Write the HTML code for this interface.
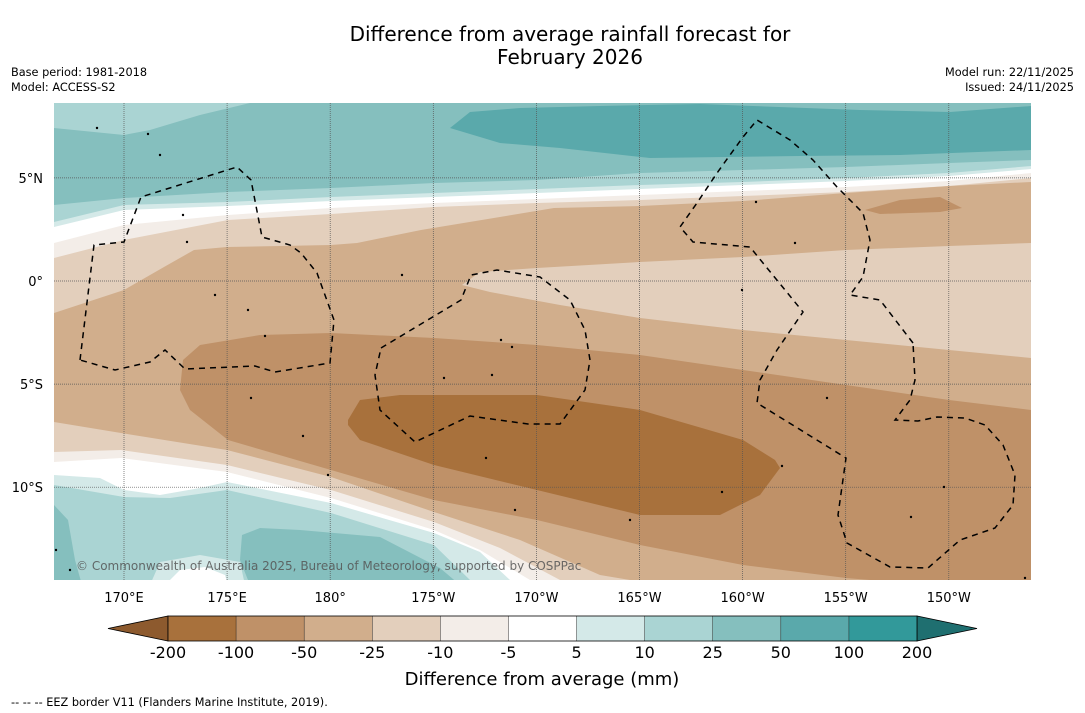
<!DOCTYPE html>
<html><head><meta charset="utf-8"><style>
body{margin:0;background:#fff;}
svg{display:block;font-family:"DejaVu Sans","Liberation Sans",sans-serif;}
</style></head><body>
<svg id="chart" width="1085" height="713" viewBox="0 0 1085 713">
<rect width="1085" height="713" fill="#fff"/>
<text x="570" y="41" font-size="20" text-anchor="middle" fill="#000">Difference from average rainfall forecast for</text>
<text x="570" y="64" font-size="20" text-anchor="middle" fill="#000">February 2026</text>
<text x="11" y="76" font-size="11.3">Base period: 1981-2018</text>
<text x="11" y="91" font-size="11.3">Model: ACCESS-S2</text>
<text x="1074" y="76" font-size="11.3" text-anchor="end">Model run: 22/11/2025</text>
<text x="1074" y="91" font-size="11.3" text-anchor="end">Issued: 24/11/2025</text>
<defs><clipPath id="mapclip"><rect x="54" y="103" width="977" height="477"/></clipPath></defs>
<g id="map" clip-path="url(#mapclip)"></g>
<g id="axes"></g>
<g id="cbar"></g>
<text x="542" y="685" font-size="18" text-anchor="middle">Difference from average (mm)</text>
<text x="11" y="706" font-size="11.3">--  --  -- EEZ border V11 (Flanders Marine Institute, 2019).</text>
</svg>
<script>
// colorbar data
const levels = ["-200","-100","-50","-25","-10","-5","5","10","25","50","100","200"];
const colors = ["#a8713c","#bf9168","#d1ae8c","#e3cfbc","#f3ede8","#ffffff","#d4e9e8","#aad4d3","#85bfbe","#5aa9ab","#32999a"];
const lonTicks = [170,175,180,185,190,195,200,205,210];
const lonLabels = ["170°E","175°E","180°","175°W","170°W","165°W","160°W","155°W","150°W"];
const latTicks = [5,0,-5,-10];
const latLabels = ["5°N","0°","5°S","10°S"];

const NS="http://www.w3.org/2000/svg";
function X(lon){return 124+(lon-170)*20.62;}
function Y(lat){return 281-lat*20.62;}
function mk(tag,attrs,parent){const e=document.createElementNS(NS,tag);for(const k in attrs)e.setAttribute(k,attrs[k]);parent.appendChild(e);return e;}
function pts(a){return a.map(p=>p.join(",")).join(" ");}

const map=document.getElementById("map");
function poly(p,fill,name){const e=mk("polygon",{points:pts(p),fill:fill},map);


return e;}
poly([[54,103],[1031,103],[1031,580],[54,580]],"#85bfbe","band-25-50");
poly([[54,103],[250,103],[200,115],[150,130],[124,135],[54,128]],"#aad4d3","band-10-25-top");
poly([[450,128],[470,112],[520,108],[600,106],[700,104],[860,110],[1031,106],[1031,150],[900,155],[800,156],[650,158],[560,148],[500,143]],"#5aa9ab","band-50-100-top");
poly([[840,103],[1031,103],[1031,106],[950,112],[860,110]],"#85bfbe","band-25-50-topright");
function below(line,fill,name){const p=line.slice();p.push([1031,600],[54,600]);return poly(p,fill,name);}
const xs=[54,124,228,331,434,537,640,743,846,949,1031];
function L(ys){return xs.map((x,i)=>[x,ys[i]]);}
below(L([205,198,192,188,183,180,173,170,167,163,160]),"#aad4d3","band-10-25");
below(L([222,205,202,197,193,189,185,182,178,173,166]),"#d4e9e8","band-5-10");
below(L([227,210,206,201,197,193,189,185,181,176,169]),"#ffffff","band-white");
below(L([243,225,215,208,203,199,195,191,187,181,173]),"#f3ede8","band-m10");
below(L([258,240,220,214,207,203,200,196,192,186,178]),"#e3cfbc","band-m25");
below([[54,313],[124,290],[164,267],[194,250],[227,247],[331,245],[357,243],[421,230],[554,208],[640,206],[743,201],[846,193],[949,186],[1031,182]],"#d1ae8c","band-m50");
poly([[462,285],[480,272],[537,268],[640,262],[743,257],[846,250],[949,246],[1031,243],[1031,358],[949,350],[846,340],[743,330],[640,318],[560,305],[490,292]],"#e3cfbc","band-m25-east");
poly([[865,210],[900,200],[940,197],[962,208],[940,212],[880,214]],"#bf9168","blob-m100-ne");
poly([[183,360],[200,345],[260,335],[331,333],[434,338],[537,345],[640,355],[743,370],[846,385],[949,400],[1031,410],[1031,580],[870,580],[846,578],[743,565],[640,545],[537,520],[434,500],[331,470],[228,440],[190,410],[180,390]],"#bf9168","band-m100");
poly([[348,420],[360,400],[400,395],[537,395],[640,410],[743,440],[775,460],[780,468],[760,495],[720,515],[640,515],[537,490],[434,465],[360,440],[348,425]],"#a8713c","band-m200");
function abv(line,fill,name){const p=line.slice();p.push([700,600],[54,600]);return poly(p,fill,name);}
abv([[54,422],[121,433],[227,450],[331,477],[434,512],[520,540],[600,575],[660,585]],"#e3cfbc","band-m25-south");
abv([[54,452],[121,450],[227,465],[331,490],[434,522],[500,548],[560,580],[580,590]],"#f3ede8","band-m10-south");
abv([[54,462],[121,458],[227,472],[331,498],[434,530],[480,550],[530,580],[540,590]],"#ffffff","band-white-south");
abv([[54,475],[100,478],[124,490],[160,495],[200,488],[227,482],[331,503],[434,533],[480,552],[510,580],[515,590]],"#d4e9e8","band-5-10-south");
abv([[54,485],[124,497],[170,498],[227,490],[331,513],[434,545],[470,580],[475,590]],"#aad4d3","band-10-25-south");
poly([[242,535],[260,528],[300,530],[380,537],[440,568],[460,585],[250,585],[240,560]],"#85bfbe","blob-25-50-south");
poly([[150,585],[160,562],[200,555],[240,562],[245,585]],"#d4e9e8","blob-5-10-south");
poly([[165,585],[180,570],[205,567],[225,575],[228,585]],"#ffffff","blob-white-south");
poly([[54,505],[68,520],[75,560],[82,585],[54,585]],"#85bfbe","blob-25-50-sw");
lonTicks.forEach(l=>{const e=mk("line",{x1:X(l),x2:X(l),y1:103,y2:580,stroke:"#555","stroke-width":0.7,"stroke-dasharray":"1 1"},map);

});
latTicks.forEach(l=>{const e=mk("line",{x1:54,x2:1031,y1:Y(l),y2:Y(l),stroke:"#555","stroke-width":0.7,"stroke-dasharray":"1 1"},map);

});
function eez(p,name){const e=mk("polyline",{points:pts(p),fill:"none",stroke:"#000","stroke-width":1.5,"stroke-dasharray":"6 5"},map);

}
eez([[80,360],[94,245],[124,242],[141,197],[237,167],[251,180],[262,237],[290,245],[301,253],[317,273],[334,320],[330,363],[275,372],[255,366],[185,369],[165,350],[150,362],[115,370],[80,360]],"eez-border-tuvalu");
eez([[381,348],[461,300],[471,275],[497,270],[540,277],[570,300],[585,330],[590,360],[585,390],[560,424],[528,424],[470,416],[415,442],[380,410],[375,375],[381,348]],"eez-border-phoenix");
eez([[913,343],[880,300],[850,295],[863,277],[870,240],[863,213],[837,187],[813,160],[790,140],[757,120],[743,137],[717,173],[697,203],[680,227],[693,242],[750,247],[763,263],[803,312],[777,350],[760,380],[757,403],[846,458],[838,515],[847,543],[890,567],[928,568],[960,540],[995,528],[1013,505],[1015,475],[1003,445],[985,425],[965,418],[937,417],[918,421],[895,420],[910,400],[915,380],[913,343]],"eez-border-line-islands");
[[97,128],[148,134],[160,155],[183,215],[187,242],[215,295],[248,310],[265,336],[402,275],[501,340],[512,347],[444,378],[492,375],[251,398],[303,436],[328,475],[486,458],[722,492],[782,466],[795,243],[756,202],[742,290],[827,398],[944,487],[911,517],[630,520],[515,510],[1025,578],[56,550],[70,570]].forEach(p=>{const e=mk("circle",{cx:p[0],cy:p[1],r:1.2,fill:"#000"},map);

});
const cp=mk("text",{x:76,y:570,"font-size":12,fill:"#555","fill-opacity":0.85},map);
cp.textContent="© Commonwealth of Australia 2025, Bureau of Meteorology, supported by COSPPac";


const axes=document.getElementById("axes");
lonTicks.forEach((l,i)=>{const t=mk("text",{x:X(l),y:602,"font-size":13,"text-anchor":"middle"},axes);t.textContent=lonLabels[i];

});
latTicks.forEach((l,i)=>{const t=mk("text",{x:43,y:Y(l)+5,"font-size":13,"text-anchor":"end"},axes);t.textContent=latLabels[i];

});
const cb=document.getElementById("cbar");
const cx0=168,cw=749/colors.length,cy=616,ch=25;
const lt=mk("polygon",{points:`${cx0},${cy} ${cx0},${cy+ch} 108,${cy+ch/2}`,fill:"#8d5a2e",stroke:"#000","stroke-width":0.8},cb);


const rt=mk("polygon",{points:`${cx0+749},${cy} ${cx0+749},${cy+ch} 977,${cy+ch/2}`,fill:"#1f6f70",stroke:"#000","stroke-width":0.8},cb);


colors.forEach((c,i)=>{const r=mk("rect",{x:cx0+i*cw,y:cy,width:cw,height:ch,fill:c},cb);

});
mk("rect",{x:cx0,y:cy,width:749,height:ch,fill:"none",stroke:"#000","stroke-width":0.8},cb);
levels.forEach((v,i)=>{const x=cx0+i*cw;
if(i>0&&i<levels.length-1)mk("line",{x1:x,x2:x,y1:cy,y2:cy+ch,stroke:"#000","stroke-width":0.4},cb);
const t=mk("text",{x:x,y:658,"font-size":16,"text-anchor":"middle"},cb);t.textContent=v;

});
</script>
</body></html>
